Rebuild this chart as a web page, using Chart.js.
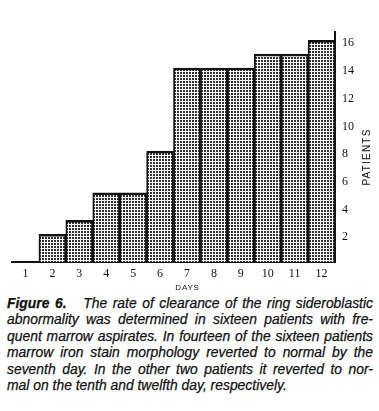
<!DOCTYPE html>
<html>
<head>
<meta charset="utf-8">
<script src="https://cdn.jsdelivr.net/npm/chart.js@4/dist/chart.umd.min.js"></script>
<style>
  html, body { margin: 0; padding: 0; background: #fff; }
  #wrap { position: relative; width: 379px; height: 295px; }
  #cap { position: absolute; left: 7px; top: 295px; width: 366px;
         font-family: "Liberation Sans", Arial, sans-serif; font-style: italic;
         font-size: 13.9px; line-height: 16.4px; color: #111;
         -webkit-text-stroke: 0.25px #111; }
  #cap div { text-align: justify; text-align-last: justify; white-space: nowrap; }
  #cap div.last { text-align-last: left; }
  #cap b { font-weight: bold; }
</style>
</head>
<body>
<div id="wrap"><canvas id="c" width="379" height="295"></canvas></div>
<div id="cap">
  <div><b>Figure 6.</b>&nbsp;&nbsp; The rate of clearance of the ring sideroblastic</div>
  <div>abnormality was determined in sixteen patients with fre-</div>
  <div>quent marrow aspirates. In fourteen of the sixteen patients</div>
  <div>marrow iron stain morphology reverted to normal by the</div>
  <div>seventh day. In the other two patients it reverted to nor-</div>
  <div class="last">mal on the tenth and twelfth day, respectively.</div>
</div>
<script>
const days = ["1","2","3","4","5","6","7","8","9","10","11","12"];
const patients = [0, 2, 3, 5, 5, 8, 14, 14, 14, 15, 15, 16];
const yTicks = [2, 4, 6, 8, 10, 12, 14, 16];
const xTitle = "DAYS";
const yTitle = "PATIENTS";

// stipple pattern
const pc = document.createElement('canvas');
pc.width = 3; pc.height = 3;
const px = pc.getContext('2d');
px.fillStyle = '#fff'; px.fillRect(0, 0, 3, 3);
px.fillStyle = '#333';
px.fillRect(0, 0, 2, 2);
const ctx0 = document.getElementById('c').getContext('2d');
const pattern = ctx0.createPattern(pc, 'repeat');

const titlesPlugin = {
  id: 'titles',
  afterDraw(chart) {
    const ctx = chart.ctx;
    const a = chart.chartArea;
    ctx.save();
    ctx.fillStyle = '#111';
    ctx.font = '8px "Liberation Sans", Arial, sans-serif';
    ctx.letterSpacing = '0.8px';
    ctx.textAlign = 'center';
    ctx.textBaseline = 'middle';
    ctx.fillText(xTitle, (a.left + a.right) / 2 + 14, a.bottom + 26);
    ctx.font = '10px "Liberation Sans", Arial, sans-serif';
    ctx.letterSpacing = '1.2px';
    ctx.translate(a.right + 32, (a.top + a.bottom) / 2 + 10);
    ctx.rotate(-Math.PI / 2);
    ctx.fillText(yTitle, 0, 0);
    ctx.restore();
  }
};

new Chart(document.getElementById('c'), {
  type: 'bar',
  data: {
    labels: days,
    datasets: [{
      data: patients,
      backgroundColor: pattern,
      borderColor: '#111',
      borderWidth: { top: 2.5, left: 1.8, right: 1.8, bottom: 0 },
      borderSkipped: false,
      barPercentage: 1,
      categoryPercentage: 1
    }]
  },
  options: {
    responsive: false,
    animation: false,
    devicePixelRatio: 1,
    layout: { padding: { left: 12, top: 32, right: 0, bottom: 0 } },
    plugins: { legend: { display: false }, tooltip: { enabled: false } },
    scales: {
      x: {
        grid: { display: false, drawTicks: false },
        border: { display: true, color: '#111', width: 2 },
        ticks: { color: '#111', font: { family: '"Liberation Serif", serif', size: 12 }, padding: 5, maxRotation: 0 },
        afterFit(s) { s.height = 33; }
      },
      y: {
        position: 'right',
        min: 0,
        max: 16.6,
        grid: { display: false, drawTicks: false },
        border: { display: true, color: '#111', width: 2 },
        afterBuildTicks(s) { s.ticks = yTicks.map(v => ({ value: v })); },
        ticks: { color: '#111', font: { family: '"Liberation Serif", serif', size: 12 }, padding: 7, labelOffset: 3 },
        afterFit(s) { s.width = 44; }
      }
    }
  },
  plugins: [titlesPlugin]
});
</script>
</body>
</html>
